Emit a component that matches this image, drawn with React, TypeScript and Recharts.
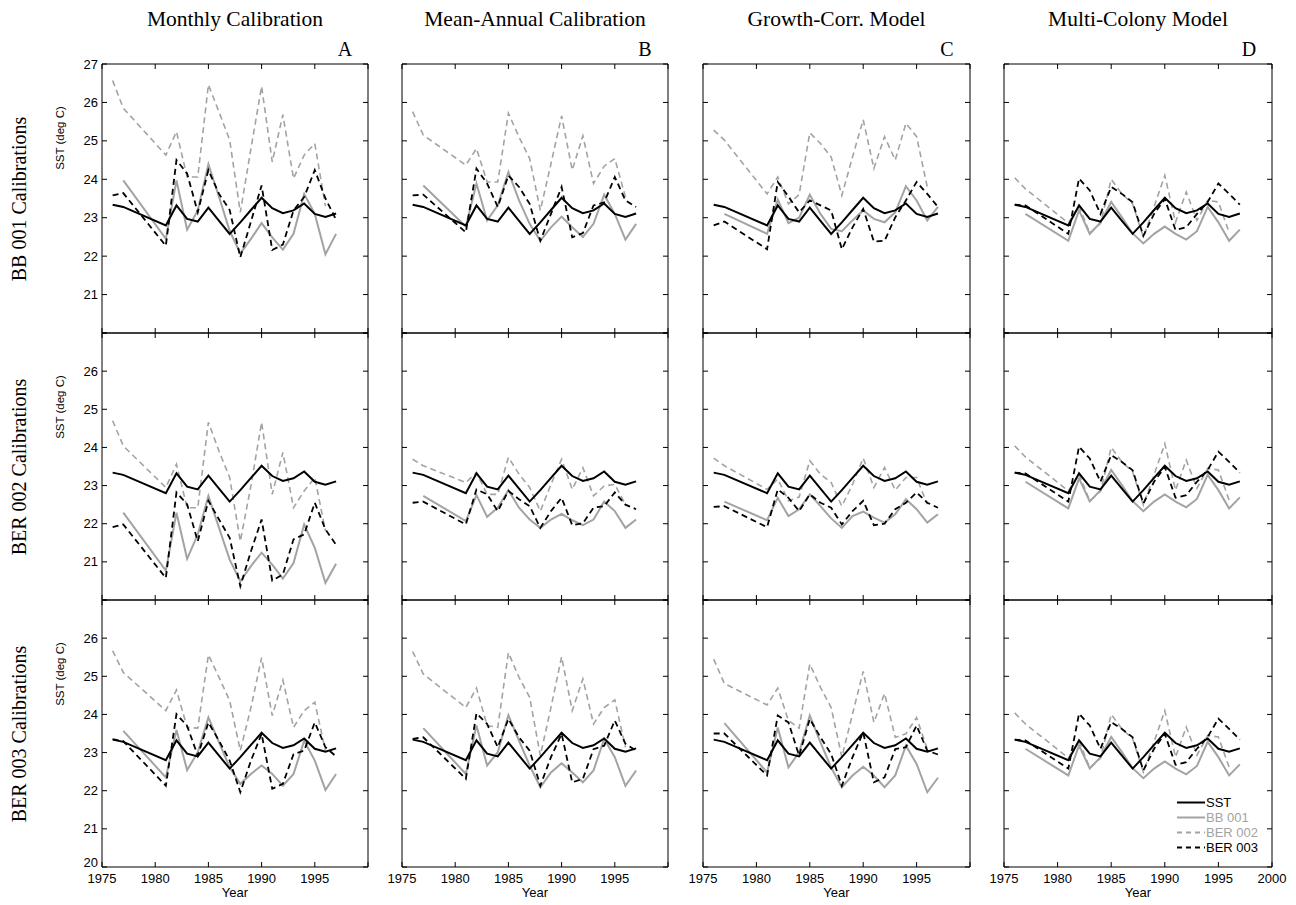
import { LineChart, Line, XAxis, YAxis } from "recharts";

// years with data (1978-1980 are gaps in the records)
const YEARS = [1976, 1977, 1981, 1982, 1983, 1984, 1985, 1986, 1987, 1988, 1989, 1990, 1991, 1992, 1993, 1994, 1995, 1996, 1997];
const SST = [23.34, 23.28, 22.8, 23.32, 22.97, 22.9, 23.26, 22.92, 22.58, 22.88, 23.2, 23.52, 23.25, 23.12, 23.19, 23.37, 23.1, 23.02, 23.11];

type Vals = (number | null)[];

// BB 001 calibrations
const monBB_bb001: Vals = [null, 23.97, 22.45, 23.97, 22.69, 23.19, 24.39, 23.54, 22.66, 22.07, 22.45, 22.86, 22.49, 22.17, 22.58, 23.62, 23.1, 22.05, 22.58];
const monBB_ber002: Vals = [26.57, 25.85, 24.63, 25.24, 24.06, 24.06, 26.46, 25.75, 25.02, 23.14, 24.8, 26.42, 24.45, 25.68, 24.02, 24.63, 24.93, 23.3, null];
const monBB_ber003: Vals = [23.58, 23.64, 22.27, 24.5, 24.15, 23.14, 24.24, 23.62, 23.2, 21.97, 22.9, 23.84, 22.16, 22.3, 23.19, 23.54, 24.24, 23.5, 22.95];
const annBB_bb001: Vals = [null, 23.84, 22.77, 23.89, 22.93, 23.32, 24.19, 23.45, 22.84, 22.4, 22.75, 23.03, 22.75, 22.5, 22.84, 23.6, 23.1, 22.43, 22.84];
const annBB_ber002: Vals = [25.76, 25.15, 24.37, 24.8, 23.93, 23.93, 25.72, 25.1, 24.54, 23.19, 24.4, 25.65, 24.24, 25.13, 23.89, 24.34, 24.54, 23.54, null];
const annBB_ber003: Vals = [23.58, 23.6, 22.62, 24.28, 23.89, 23.28, 24.1, 23.8, 23.36, 22.4, 23.1, 23.8, 22.49, 22.6, 23.32, 23.4, 24.06, 23.45, 23.28];
const grwBB_bb001: Vals = [null, 23.1, 22.58, 23.47, 22.86, 23.0, 23.6, 23.1, 22.71, 22.65, 22.93, 23.19, 22.97, 22.88, 23.14, 23.82, 23.45, 22.93, 23.28];
const grwBB_ber002: Vals = [25.28, 25.02, 23.62, 24.06, 23.36, 23.6, 25.21, 24.93, 24.58, 23.58, 24.58, 25.55, 24.28, 25.11, 24.5, 25.46, 25.11, 23.8, null];
const grwBB_ber003: Vals = [22.8, 22.9, 22.18, 23.93, 23.55, 23.14, 23.45, 23.32, 23.19, 22.18, 22.75, 23.23, 22.38, 22.4, 23.01, 23.45, 23.93, 23.62, 23.28];

// BER 002 calibrations
const monB2_bb001: Vals = [null, 22.29, 20.77, 22.29, 21.08, 21.72, 22.73, 21.89, 21.06, 20.49, 20.89, 21.24, 20.93, 20.56, 20.97, 21.98, 21.37, 20.45, 20.95];
const monB2_ber002: Vals = [24.7, 24.04, 22.95, 23.56, 22.42, 22.42, 24.66, 23.9, 23.21, 21.54, 23.0, 24.66, 22.77, 23.87, 22.42, 22.86, 23.21, 21.81, null];
const monB2_ber003: Vals = [21.91, 21.98, 20.58, 22.82, 22.51, 21.54, 22.6, 22.11, 21.63, 20.36, 21.28, 22.11, 20.51, 20.67, 21.59, 21.72, 22.55, 21.85, 21.45];
const annB2_bb001: Vals = [null, 22.73, 22.07, 22.75, 22.18, 22.42, 22.88, 22.42, 22.11, 21.89, 22.11, 22.26, 22.09, 21.96, 22.11, 22.58, 22.33, 21.89, 22.11];
const annB2_ber002: Vals = [23.69, 23.52, 23.08, 23.34, 22.77, 22.77, 23.74, 23.3, 22.95, 22.33, 23.03, 23.69, 22.9, 23.47, 22.73, 22.99, 23.03, 22.5, null];
const annB2_ber003: Vals = [22.55, 22.58, 21.98, 22.9, 22.77, 22.33, 22.86, 22.64, 22.46, 21.89, 22.33, 22.68, 21.96, 22.01, 22.42, 22.46, 22.82, 22.5, 22.38];
const grwB2_bb001: Vals = [null, 22.58, 22.09, 22.68, 22.2, 22.38, 22.77, 22.46, 22.14, 21.89, 22.2, 22.32, 22.16, 22.03, 22.25, 22.64, 22.38, 22.03, 22.25];
const grwB2_ber002: Vals = [23.72, 23.52, 22.9, 23.17, 22.6, 22.7, 23.65, 23.3, 23.08, 22.46, 23.03, 23.72, 22.95, 23.47, 22.88, 23.21, 23.21, 22.51, null];
const grwB2_ber003: Vals = [22.44, 22.46, 21.91, 22.9, 22.68, 22.33, 22.77, 22.55, 22.42, 21.98, 22.33, 22.6, 21.96, 22.0, 22.38, 22.55, 22.82, 22.55, 22.42];

// BER 003 calibrations
const monB3_bb001: Vals = [null, 23.57, 22.35, 23.59, 22.54, 23.01, 23.92, 23.27, 22.61, 22.18, 22.44, 22.66, 22.44, 22.13, 22.44, 23.31, 22.79, 22.02, 22.44];
const monB3_ber002: Vals = [25.67, 25.1, 24.1, 24.64, 23.66, 23.64, 25.56, 24.97, 24.36, 23.05, 24.18, 25.49, 23.97, 24.9, 23.66, 24.1, 24.32, 23.05, null];
const monB3_ber003: Vals = [23.35, 23.3, 22.13, 24.01, 23.7, 22.92, 23.79, 23.31, 22.79, 21.96, 22.79, 23.49, 22.05, 22.18, 22.96, 23.05, 23.79, 23.14, 22.9];
const annB3_bb001: Vals = [null, 23.64, 22.44, 23.71, 22.66, 23.01, 23.98, 23.31, 22.66, 22.09, 22.48, 22.72, 22.48, 22.22, 22.53, 23.36, 22.88, 22.13, 22.53];
const annB3_ber002: Vals = [25.65, 25.06, 24.18, 24.69, 23.71, 23.66, 25.62, 24.97, 24.45, 22.92, 24.18, 25.51, 24.1, 24.93, 23.75, 24.18, 24.38, 23.14, null];
const annB3_ber003: Vals = [23.36, 23.4, 22.31, 24.03, 23.75, 23.14, 23.88, 23.4, 23.05, 22.13, 22.88, 23.49, 22.22, 22.31, 23.09, 23.18, 23.84, 23.23, 23.05];
const grwB3_bb001: Vals = [null, 23.77, 22.48, 23.66, 22.61, 23.01, 23.97, 23.27, 22.61, 22.09, 22.4, 22.63, 22.4, 22.09, 22.4, 23.18, 22.7, 21.96, 22.34];
const grwB3_ber002: Vals = [25.45, 24.81, 24.25, 24.69, 23.84, 23.64, 25.32, 24.71, 24.18, 22.88, 24.01, 25.13, 23.79, 24.55, 23.4, 23.49, 23.92, 23.09, null];
const grwB3_ber003: Vals = [23.5, 23.5, 22.4, 23.97, 23.79, 22.92, 23.88, 23.4, 22.96, 22.13, 22.88, 23.53, 22.22, 22.35, 23.09, 23.14, 23.71, 23.05, 22.95];

// multi-colony model (same in every row)
const mc_bb001: Vals = [null, 23.1, 22.4, 23.19, 22.58, 22.88, 23.41, 23.01, 22.59, 22.33, 22.58, 22.77, 22.58, 22.43, 22.65, 23.28, 22.88, 22.4, 22.69];
const mc_ber002: Vals = [24.04, 23.75, 22.86, 23.3, 22.6, 22.85, 24.0, 23.62, 23.36, 22.49, 23.28, 24.1, 22.88, 23.67, 22.93, 23.45, 23.41, 22.62, null];
const mc_ber003: Vals = [23.34, 23.32, 22.58, 24.02, 23.71, 23.1, 23.8, 23.62, 23.4, 22.53, 23.1, 23.49, 22.68, 22.75, 23.1, 23.41, 23.89, 23.62, 23.34];

const COL_TITLES = ["Monthly Calibration", "Mean-Annual Calibration", "Growth-Corr. Model", "Multi-Colony Model"];
const COL_LETTERS = ["A", "B", "C", "D"];
const ROW_TITLES = ["BB 001 Calibrations", "BER 002 Calibrations", "BER 003 Calibrations"];
const X_TICKS = [1975, 1980, 1985, 1990, 1995, 2000];
const Y_TICKS = [20, 21, 22, 23, 24, 25, 26, 27];

const PANELS: [Vals, Vals, Vals][][] = [
  [[monBB_bb001, monBB_ber002, monBB_ber003], [annBB_bb001, annBB_ber002, annBB_ber003], [grwBB_bb001, grwBB_ber002, grwBB_ber003], [mc_bb001, mc_ber002, mc_ber003]],
  [[monB2_bb001, monB2_ber002, monB2_ber003], [annB2_bb001, annB2_ber002, annB2_ber003], [grwB2_bb001, grwB2_ber002, grwB2_ber003], [mc_bb001, mc_ber002, mc_ber003]],
  [[monB3_bb001, monB3_ber002, monB3_ber003], [annB3_bb001, annB3_ber002, annB3_ber003], [grwB3_bb001, grwB3_ber002, grwB3_ber003], [mc_bb001, mc_ber002, mc_ber003]],
];

const COL_LEFT = [102, 402, 703, 1004];
const COL_W = [266, 266, 267, 268];
const ROW_TOP = [64, 333, 600];
const ROW_H = [269, 267, 267];

const GRAY = "#a3a3a3";
const SERIF = "'Times New Roman', 'Liberation Serif', serif";
const SANS = "Arial, 'Liberation Sans', sans-serif";

// spare room around each plot so edge tick labels are not clipped
const PAD_X = 22;
const PAD_TOP = 10;

function Panel({ row, col }: { row: number; col: number }) {
  const [bb, b2, b3] = PANELS[row][col];
  const data = YEARS.map((year, i) => ({ year, sst: SST[i], bb001: bb[i], ber002: b2[i], ber003: b3[i] }));
  // every axis needs a non-zero size, otherwise it is not drawn
  const yW = col === 0 ? 40 : 1;
  const xH = row === 2 ? 36 : 1;
  const w = COL_W[col];
  const h = ROW_H[row];
  const tickStyle = { fontSize: 13, fill: "#000", fontFamily: SANS };

  const yLabel = (v: number) => {
    if (col !== 0) return "";
    if (row === 0 && v === 20) return "";
    if (row === 1 && (v === 20 || v === 27)) return "";
    if (row === 2 && v === 27) return "";
    return String(v);
  };
  const xFmt = (v: number) => {
    if (row !== 2) return "";
    if (v === 2000 && col !== 3) return "";
    return String(v);
  };

  // the corner "20" sits a little higher so it clears "1975"
  const YTick = (props: any) => {
    const { x, y, payload } = props;
    const txt = yLabel(payload.value);
    if (!txt) return <g />;
    const shift = payload.value === 20 ? -5 : 0;
    return (
      <text x={x} y={y + shift} dy="0.355em" textAnchor="end" {...tickStyle}>
        {txt}
      </text>
    );
  };

  return (
    <div style={{ position: "absolute", left: COL_LEFT[col] - yW - PAD_X, top: ROW_TOP[row] - 1 - PAD_TOP }}>
      <LineChart
        width={PAD_X + yW + w + 1 + PAD_X}
        height={PAD_TOP + 1 + h + xH}
        data={data}
        margin={{ top: PAD_TOP, right: PAD_X, bottom: 0, left: PAD_X }}
      >
        <XAxis
          xAxisId="b"
          dataKey="year"
          type="number"
          domain={[1975, 2000]}
          ticks={X_TICKS}
          interval={0}
          allowDataOverflow
          height={xH}
          stroke="#000"
          tickSize={-5}
          tickMargin={12}
          tick={tickStyle}
          tickFormatter={xFmt}
          label={row === 2 ? { value: "Year", position: "insideBottom", offset: 6, style: { fontSize: 13, fill: "#000", fontFamily: SANS } } : undefined}
        />
        <XAxis
          xAxisId="t"
          orientation="top"
          dataKey="year"
          type="number"
          domain={[1975, 2000]}
          ticks={X_TICKS}
          interval={0}
          allowDataOverflow
          height={1}
          stroke="#000"
          tickSize={-5}
          tickFormatter={() => ""}
        />
        <YAxis
          yAxisId="l"
          type="number"
          domain={[20, 27]}
          ticks={Y_TICKS}
          interval={0}
          allowDataOverflow
          width={yW}
          stroke="#000"
          tickSize={-5}
          tickMargin={9}
          tick={YTick}
        />
        <YAxis
          yAxisId="r"
          orientation="right"
          type="number"
          domain={[20, 27]}
          ticks={Y_TICKS}
          interval={0}
          allowDataOverflow
          width={1}
          stroke="#000"
          tickSize={-5}
          tickFormatter={() => ""}
        />
        <Line xAxisId="b" yAxisId="l" dataKey="ber002" stroke={GRAY} strokeWidth={1.6} strokeDasharray="6 4" dot={false} isAnimationActive={false} />
        <Line xAxisId="b" yAxisId="l" dataKey="bb001" stroke={GRAY} strokeWidth={2} dot={false} isAnimationActive={false} />
        <Line xAxisId="b" yAxisId="l" dataKey="ber003" stroke="#000" strokeWidth={1.8} strokeDasharray="6 4" dot={false} isAnimationActive={false} />
        <Line xAxisId="b" yAxisId="l" dataKey="sst" stroke="#000" strokeWidth={2} dot={false} isAnimationActive={false} />
      </LineChart>
    </div>
  );
}

const LEGEND = [
  { label: "SST", color: "#000", dash: undefined },
  { label: "BB 001", color: GRAY, dash: undefined },
  { label: "BER 002", color: GRAY, dash: "5 4" },
  { label: "BER 003", color: "#000", dash: "5 4" },
];

export default function App() {
  return (
    <div style={{ position: "absolute", left: 0, top: 0, width: 1296, height: 905, background: "#fff", overflow: "hidden" }}>
      {COL_TITLES.map((t, c) => (
        <div
          key={t}
          style={{ position: "absolute", left: COL_LEFT[c] - 40, width: COL_W[c] + 80, top: 7, textAlign: "center", fontFamily: SERIF, fontSize: 21.5 }}
        >
          {t}
        </div>
      ))}
      {COL_LETTERS.map((t, c) => (
        <div
          key={t}
          style={{ position: "absolute", left: COL_LEFT[c] + COL_W[c] - 36, width: 26, top: 38, textAlign: "center", fontFamily: SERIF, fontSize: 20 }}
        >
          {t}
        </div>
      ))}
      {ROW_TITLES.map((t, r) => (
        <div
          key={t}
          style={{
            position: "absolute",
            left: 19,
            top: ROW_TOP[r] + ROW_H[r] / 2,
            transform: "translate(-50%, -50%) rotate(-90deg)",
            whiteSpace: "nowrap",
            fontFamily: SERIF,
            fontSize: 20,
          }}
        >
          {t}
        </div>
      ))}
      {ROW_TITLES.map((t, r) => (
        <div
          key={"sst" + t}
          style={{
            position: "absolute",
            left: 60,
            top: ROW_TOP[r] + 74,
            transform: "translate(-50%, -50%) rotate(-90deg)",
            whiteSpace: "nowrap",
            fontFamily: SANS,
            fontSize: 11.5,
          }}
        >
          SST (deg C)
        </div>
      ))}
      {[0, 1, 2].map((r) => [0, 1, 2, 3].map((c) => <Panel key={`${r}-${c}`} row={r} col={c} />))}
      <div style={{ position: "absolute", left: 1176, top: 795, fontFamily: SANS, fontSize: 13, lineHeight: "15px" }}>
        {LEGEND.map((e) => (
          <div key={e.label} style={{ display: "flex", alignItems: "center", color: e.color }}>
            <svg width={30} height={15}>
              <line x1={1} y1={7.5} x2={29} y2={7.5} stroke={e.color} strokeWidth={2} strokeDasharray={e.dash} />
            </svg>
            <span>{e.label}</span>
          </div>
        ))}
      </div>
    </div>
  );
}
